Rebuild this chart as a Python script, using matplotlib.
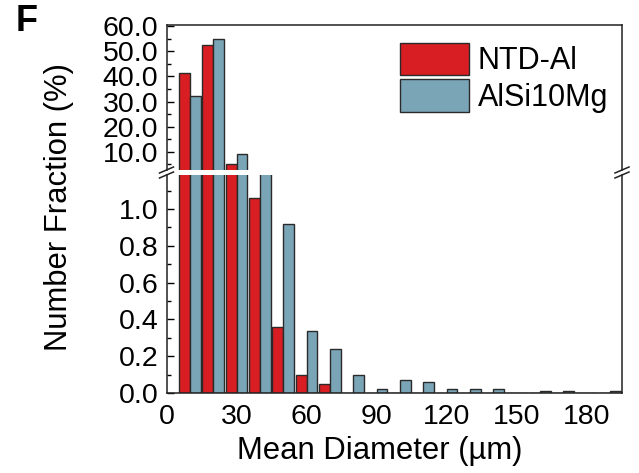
import numpy as np
import matplotlib
matplotlib.use("Agg")
import matplotlib.pyplot as plt
from matplotlib.ticker import MultipleLocator, FormatStrFormatter
from matplotlib.patches import Patch
from matplotlib.lines import Line2D

plt.rcParams["font.family"] = ["Liberation Sans", "DejaVu Sans"]

# bin centres (um) and number fractions (%)
diameters = [10, 20, 30, 40, 50, 60, 70, 80, 90, 100, 110, 120, 130, 140, 150, 160, 170, 180, 190]
ntd_al = [41.5, 52.4, 5.1, 1.06, 0.357, 0.098, 0.048, 0, 0, 0, 0, 0, 0, 0, 0, 0, 0, 0, 0]
alsi10mg = [32.2, 55.0, 9.0, 2.0, 0.92, 0.336, 0.237, 0.098, 0.02, 0.07, 0.059, 0.02, 0.02, 0.02, 0, 0.01, 0.01, 0, 0.01]

RED = "#d81e22"
BLUE = "#7aa5b7"
EDGE = "#2a2a2a"

W, H = 639, 473
fig = plt.figure(figsize=(W / 100, H / 100), dpi=100)

def fx(px):
    return px / W

def fy(py):
    return 1 - py / H

left, right = 166.5, 622
ax_lo = fig.add_axes([fx(left), fy(393), fx(right) - fx(left), fy(175) - fy(393)])
ax_hi = fig.add_axes([fx(left), fy(170), fx(right) - fx(left), fy(25) - fy(170)])

x = np.array(diameters)
bw = 4.7
for ax in (ax_lo, ax_hi):
    ax.bar(x - bw / 2, ntd_al, width=bw, color=RED, edgecolor=EDGE, linewidth=1.0)
    ax.bar(x + bw / 2, alsi10mg, width=bw, color=BLUE, edgecolor=EDGE, linewidth=1.0)
    ax.set_xlim(0, 195.2)
    for s in ax.spines.values():
        s.set_linewidth(1.1)
        s.set_color("#222222")

ax_lo.set_ylim(0, 1.185)
ax_hi.set_ylim(2.7, 60.5)
ax_lo.spines["top"].set_visible(False)
ax_hi.spines["bottom"].set_visible(False)

ax_lo.yaxis.set_major_locator(MultipleLocator(0.2))
ax_lo.yaxis.set_minor_locator(MultipleLocator(0.1))
ax_lo.yaxis.set_major_formatter(FormatStrFormatter("%.1f"))
ax_hi.yaxis.set_major_locator(MultipleLocator(10))
ax_hi.yaxis.set_minor_locator(MultipleLocator(5))
ax_hi.yaxis.set_major_formatter(FormatStrFormatter("%.1f"))
ax_lo.xaxis.set_major_locator(MultipleLocator(30))

for ax in (ax_lo, ax_hi):
    ax.tick_params(axis="y", which="major", direction="in", length=5, width=1, labelsize=20.5, pad=6)
    ax.tick_params(axis="y", which="minor", direction="in", length=3, width=1)
    ax.tick_params(axis="x", length=0, labelsize=20.5, pad=8)
ax_hi.tick_params(axis="x", labelbottom=False)

# break marks on both spines
for xb in (left, right):
    for yb in (170, 175):
        fig.add_artist(Line2D([fx(xb - 7), fx(xb + 7)], [fy(yb + 3), fy(yb - 3)],
                              color="#222222", lw=1.1))

fig.text(fx(59), fy(207), "Number Fraction (%)", rotation=90, ha="center", va="center", fontsize=22.3)
fig.text(fx(380), fy(451), "Mean Diameter (\u00b5m)", ha="center", va="center", fontsize=22.3)
fig.text(fx(16), fy(21), "F", fontsize=26, fontweight="bold", ha="left", va="center")

handles = [Patch(facecolor=RED, edgecolor=EDGE, label="NTD-Al"),
           Patch(facecolor=BLUE, edgecolor=EDGE, label="AlSi10Mg")]
fig.legend(handles=handles, loc="upper left", bbox_to_anchor=(fx(400), fy(43)), frameon=False,
           fontsize=22, handlelength=2.25, handleheight=1.25, labelspacing=0.1,
           handletextpad=0.3, borderpad=0, borderaxespad=0)

fig.savefig("out.png", dpi=100)
